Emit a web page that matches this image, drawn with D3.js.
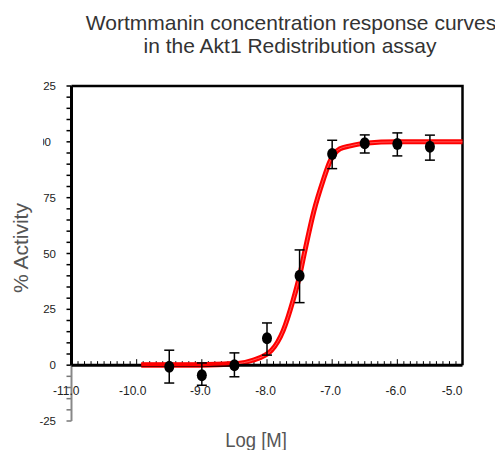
<!DOCTYPE html>
<html>
<head>
    <title>Wortmmanin concentration response</title>
    <script src="https://d3js.org/d3.v7.min.js"></script>
    <style>
        body { margin: 0; background: #fff; }
        .tick-label { font: 11.5px "Liberation Sans", Arial, sans-serif; fill: #222; }
        .xtick-label { font: 12px "Liberation Sans", Arial, sans-serif; fill: #222; }
        .title { font: 21px "Liberation Sans", Arial, sans-serif; fill: #333; }
        .axis-title { font: 21px "Liberation Sans", Arial, sans-serif; fill: #555; }
    </style>
</head>
<body>
    <script>
        // measured points (log molar concentration vs % activity)
        var logConc = [-9.5, -9.0, -8.5, -8.0, -7.5, -7.0, -6.5, -6.0, -5.5];
        var activity = [-0.7, -4.5, 0, 12, 40, 94.5, 99.4, 99, 97.8];
        var errHigh = [6.7, 1.0, 5.5, 18.9, 51.6, 100.7, 103.1, 104, 103];
        var errLow = [-8, -9, -5.2, 4.5, 28, 88, 95, 93.7, 91.8];

        // fitted curve
        var curveX = [-9.93, -9.0, -8.5, -8.22, -7.93, -7.75, -7.6, -7.5, -7.42, -7.28, -7.14, -7.03, -6.88, -6.72, -6.5, -6.0, -5.0];
        var curveY = [0, 0, 0.5, 2.2, 6.7, 15.6, 29, 40, 51, 69, 82.6, 91.5, 96.9, 98.2, 99.4, 100, 100];

        var xTicks = [-11, -10, -9, -8, -7, -6, -5];
        var xTickLabels = ["-11.0", "-10.0", "-9.0", "-8.0", "-7.0", "-6.0", "-5.0"];
        var yTicks = [-25, 0, 25, 50, 75, 100, 125];
        var yTickLabels = ["-25", "0", "25", "50", "75", "100", "125"];

        var width = 495, height = 450;
        var svg = d3.select("body").append("svg")
            .attr("width", width)
            .attr("height", height);

        var x = d3.scaleLinear().domain([-11, -5]).range([71.5, 462.5]);
        var y = d3.scaleLinear().domain([-25, 125]).range([421, 86]);

        // titles
        svg.append("text").attr("class", "title")
            .attr("x", 291).attr("y", 30).attr("text-anchor", "middle")
            .text("Wortmmanin concentration response curves");
        svg.append("text").attr("class", "title")
            .attr("x", 290).attr("y", 53).attr("text-anchor", "middle")
            .text("in the Akt1 Redistribution assay");

        svg.append("text").attr("class", "axis-title")
            .attr("transform", "translate(256,447) scale(0.88,1)")
            .attr("text-anchor", "middle")
            .text("Log [M]");
        svg.append("text").attr("class", "axis-title")
            .attr("transform", "translate(28,248) rotate(-90)")
            .attr("text-anchor", "middle")
            .text("% Activity");

        // frame: top and right borders
        svg.append("path")
            .attr("d", "M" + x(-11) + "," + y(125) + "H" + x(-5) + "V" + y(0))
            .attr("fill", "none").attr("stroke", "#000").attr("stroke-width", 2.5);

        // y axis: black above zero, grey below
        var yMinor = d3.range(-25, 126, 5);
        svg.selectAll(".yminor").data(yMinor).enter().append("line")
            .attr("x1", x(-11) - 5).attr("x2", x(-11))
            .attr("y1", function(d) { return y(d); })
            .attr("y2", function(d) { return y(d); })
            .attr("stroke", function(d) { return d < 0 ? "#777" : "#000"; })
            .attr("stroke-width", 1.5);
        svg.append("line")
            .attr("x1", x(-11)).attr("x2", x(-11))
            .attr("y1", y(0)).attr("y2", y(-25))
            .attr("stroke", "#888").attr("stroke-width", 2);
        svg.append("line")
            .attr("x1", x(-11)).attr("x2", x(-11))
            .attr("y1", y(125)).attr("y2", y(0))
            .attr("stroke", "#000").attr("stroke-width", 3);

        // the top two labels are cut off on the left in the original
        svg.append("clipPath").attr("id", "ylab")
            .append("rect").attr("x", 43).attr("y", 0).attr("width", 40).attr("height", height);
        svg.append("g")
            .selectAll("text").data(yTicks).enter().append("text")
            .attr("class", "tick-label")
            .attr("clip-path", function(d) { return d >= 100 ? "url(#ylab)" : null; })
            .attr("x", function(d) { return d === 100 ? 51 : 56; })
            .attr("y", function(d) { return y(d) + 4; })
            .attr("text-anchor", "end")
            .text(function(d, i) { return yTickLabels[i]; });

        // x axis along zero, ticks pointing up
        var xMinor = d3.range(-110, -49, 1).map(function(v) { return v / 10; });
        svg.selectAll(".xminor").data(xMinor).enter().append("line")
            .attr("x1", function(d) { return x(d); })
            .attr("x2", function(d) { return x(d); })
            .attr("y1", y(0))
            .attr("y2", function(d) { return y(0) - (Math.abs(d - Math.round(d)) < 1e-6 ? 6 : 4); })
            .attr("stroke", "#000").attr("stroke-width", 1);

        svg.selectAll(".xlab").data(xTicks).enter().append("text")
            .attr("class", "xtick-label")
            .attr("x", function(d) {
                if (d === -5) return x(d);
                if (d === -11) return x(d) + 8;
                if (d === -10) return x(d) - 4;
                return x(d) - 1.5;
            })
            .attr("y", 395)
            .attr("text-anchor", function(d) { return (d === -5 || d === -11) ? "end" : "middle"; })
            .text(function(d, i) { return xTickLabels[i]; });

        // fitted curve
        var pts = curveX.map(function(v, i) { return [v, curveY[i]]; });
        var line = d3.line()
            .x(function(d) { return x(d[0]); })
            .y(function(d) { return y(d[1]); })
            .curve(d3.curveMonotoneX);

        svg.append("path").datum(pts)
            .attr("d", line)
            .attr("fill", "none").attr("stroke", "#ff0000").attr("stroke-width", 5);

        svg.append("line")
            .attr("x1", x(-11)).attr("x2", x(-5))
            .attr("y1", y(0)).attr("y2", y(0))
            .attr("stroke", "#000").attr("stroke-width", 3);
        svg.append("path").datum(pts.filter(function(d) { return d[0] > -8.6; }))
            .attr("d", line)
            .attr("fill", "none").attr("stroke", "#ff5a5a").attr("stroke-width", 1);
        svg.append("path").datum(pts.filter(function(d) { return d[0] < -8.4; }))
            .attr("d", line)
            .attr("fill", "none").attr("stroke", "#ff0000").attr("stroke-width", 4)
            .attr("transform", "translate(0,-1)");

        // error bars
        var eb = svg.append("g").attr("stroke", "#000").attr("stroke-width", 1.5);
        logConc.forEach(function(c, i) {
            var cx = x(c);
            eb.append("line").attr("x1", cx).attr("x2", cx)
                .attr("y1", y(errHigh[i])).attr("y2", y(errLow[i]));
            eb.append("line").attr("x1", cx - 5).attr("x2", cx + 5)
                .attr("y1", y(errHigh[i])).attr("y2", y(errHigh[i]));
            eb.append("line").attr("x1", cx - 5).attr("x2", cx + 5)
                .attr("y1", y(errLow[i])).attr("y2", y(errLow[i]));
        });

        // points
        svg.selectAll(".pt").data(logConc).enter().append("ellipse")
            .attr("cx", function(d) { return x(d); })
            .attr("cy", function(d, i) { return y(activity[i]); })
            .attr("rx", 5).attr("ry", 6)
            .attr("fill", "#000");
    </script>
</body>
</html>
